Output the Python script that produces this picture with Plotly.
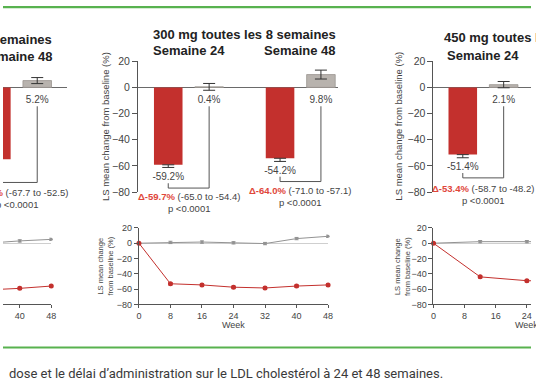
import plotly.graph_objects as go

# ---------------- data ----------------
bar_weeks = ["Semaine 24", "Semaine 48"]
panel_titles = ["150 mg toutes les 4 semaines",
                "300 mg toutes les 8 semaines",
                "450 mg toutes les 12 semaines"]

# left panel (150 mg Q4W) - only week 48 is visible
left_cats = ["Semaine 48"]
left_drug = [-54.9]
left_drug_err = [2.5]
left_plc = [5.2]
left_plc_err = [2.3]
left_delta = [-60.1]
left_ci_lo = [-67.7]
left_ci_hi = [-52.5]

# middle panel (300 mg Q8W)
mid_cats = ["Semaine 24", "Semaine 48"]
mid_drug = [-59.2, -54.2]
mid_drug_err = [2.0, 2.4]
mid_plc = [0.4, 9.8]
mid_plc_err = [2.6, 3.4]
mid_delta = [-59.7, -64.0]
mid_ci_lo = [-65.0, -71.0]
mid_ci_hi = [-54.4, -57.1]

# right panel (450 mg Q12W) - only week 24 is visible
right_cats = ["Semaine 24"]
right_drug = [-51.4]
right_drug_err = [2.4]
right_plc = [2.1]
right_plc_err = [2.4]
right_delta = [-53.4]
right_ci_lo = [-58.7]
right_ci_hi = [-48.2]

p_text = "p &lt;0.0001"

# time courses
left_wk = [32, 40, 48]
left_drug_line = [-61.0, -59.0, -56.0]
left_drug_line_err = [1.5, 1.5, 1.5]
left_plc_line = [0.0, 3.0, 5.0]
left_plc_line_err = [1.5, 1.5, 1.5]

mid_wk = [0, 8, 16, 24, 32, 40, 48]
mid_drug_line = [0.0, -53.0, -54.5, -57.5, -58.5, -56.0, -54.5]
mid_drug_line_err = [0, 1.5, 1.5, 1.5, 1.5, 1.5, 1.5]
mid_plc_line = [0.0, 1.0, 1.5, 0.5, -0.5, 6.0, 9.0]
mid_plc_line_err = [0, 1.5, 1.5, 1.5, 1.5, 1.5, 1.5]

right_wk = [0, 12, 24, 36]
right_drug_line = [0.0, -44.0, -49.0, -50.0]
right_drug_line_err = [0, 1.5, 1.5, 1.5]
right_plc_line = [0.0, 2.0, 2.0, 2.0]
right_plc_line_err = [0, 1.5, 1.5, 1.5]

y_ticks = [-80, -60, -40, -20, 0, 20]
week_ticks = [0, 8, 16, 24, 32, 40, 48]

# ---------------- layout constants ----------------
W, H = 536, 386
S = 113.5          # px between week groups
HALF = 20.75       # px from group centre to bar centre
BARW = 29          # bar width px
PPU = 135 / 100.0  # px per % unit in bar charts
BAR_TOP, BAR_BOT = 57, 192
LINE_TOP, LINE_BOT = 229, 308

RED = "#c3302d"
DRED = "#e0463b"
GREY = "#b8b3ae"
GLINE = "#939393"
TXT = "#444444"
AX = "#555555"
GREEN = "#58b24f"
FONT = "Liberation Sans, Arial, sans-serif"


def fx(p):
    return p / W


def fy(p):
    return 1 - p / H


panels = [
    dict(cats=left_cats, drug=left_drug, derr=left_drug_err, plc=left_plc, perr=left_plc_err,
         delta=left_delta, lo=left_ci_lo, hi=left_ci_hi,
         wk=left_wk, dl=left_drug_line, dle=left_drug_line_err, pl=left_plc_line, ple=left_plc_line_err,
         c0=-99.5, bdom=(0, 65), lax=-143, ppw=4.0, ldom=(0, 49), axes=False,
         ttl_y=(35, 52), ytx=None, lytx=None, dshift=-3),
    dict(cats=mid_cats, drug=mid_drug, derr=mid_drug_err, plc=mid_plc, perr=mid_plc_err,
         delta=mid_delta, lo=mid_ci_lo, hi=mid_ci_hi,
         wk=mid_wk, dl=mid_drug_line, dle=mid_drug_line_err, pl=mid_plc_line, ple=mid_plc_line_err,
         c0=188.5, bdom=(137, 340), lax=138, ppw=4.0, ldom=(138, 330), axes=True,
         ttl_y=(29, 46), ytx=104, lytx=104, dshift=-1),
    dict(cats=right_cats, drug=right_drug, derr=right_drug_err, plc=right_plc, perr=right_plc_err,
         delta=right_delta, lo=right_ci_lo, hi=right_ci_hi,
         wk=right_wk, dl=right_drug_line, dle=right_drug_line_err, pl=right_plc_line, ple=right_plc_line_err,
         c0=487.5, bdom=(437, 536), lax=437, ppw=3.95, ldom=(437, 536), axes=True,
         ttl_y=(33, 51), ytx=402, lytx=405, dshift=-3),
]

fig = go.Figure()
layout = dict(
    width=W, height=H, margin=dict(l=0, r=0, t=0, b=0),
    paper_bgcolor="white", plot_bgcolor="rgba(0,0,0,0)",
    showlegend=False, barmode="overlay",
    font=dict(family=FONT, color=TXT),
)
annotations = []
shapes = []

off = HALF / S
bw = BARW / S

for k, P in enumerate(panels):
    nb = k + 1      # bar subplot
    nl = k + 4      # line subplot
    xb, yb = f"x{nb}", f"y{nb}"
    xl, yl = f"x{nl}", f"y{nl}"
    g = [bar_weeks.index(c) for c in P["cats"]]

    # ---- axes (bar chart)
    a, b = P["bdom"]
    layout[f"xaxis{nb}"] = dict(domain=[fx(a), fx(b)], range=[(a - P["c0"]) / S, (b - P["c0"]) / S],
                                visible=False, anchor=yb)
    layout[f"yaxis{nb}"] = dict(domain=[fy(BAR_BOT), fy(BAR_TOP)], range=[-80, 20], tickvals=y_ticks,
                                ticks="outside" if P["axes"] else "", ticklen=5, tickwidth=1, tickcolor=AX,
                                showticklabels=P["axes"], showline=P["axes"], linecolor=AX, linewidth=1,
                                showgrid=False, zeroline=True, zerolinecolor="#6a6a6a", zerolinewidth=1.2,
                                tickfont=dict(size=10.5, color=TXT, family=FONT), anchor=xb)

    # ---- bars
    fig.add_trace(go.Bar(x=[gi - off for gi in g], y=P["drug"], width=bw,
                         marker=dict(color=RED, line=dict(width=0)),
                         error_y=dict(type="data", symmetric=False, array=[0] * len(g),
                                      arrayminus=P["derr"], color="#333", thickness=1, width=6),
                         xaxis=xb, yaxis=yb, hoverinfo="skip"))
    fig.add_trace(go.Bar(x=[gi + off for gi in g], y=P["plc"], width=bw,
                         marker=dict(color=GREY, line=dict(width=0.8, color="#9a9590")),
                         error_y=dict(type="data", array=P["perr"], color="#333", thickness=1, width=6),
                         xaxis=xb, yaxis=yb, hoverinfo="skip"))
    # value labels below bar ends / below zero line
    lab_x = [gi - off for gi in g] + [gi + off for gi in g]
    lab_y = [min(v, 0) for v in P["drug"]] + [min(v, 0) for v in P["plc"]]
    lab_t = [f"{v:.1f}%" for v in P["drug"]] + [f"{v:.1f}%" for v in P["plc"]]
    fig.add_trace(go.Scatter(x=lab_x, y=lab_y, text=lab_t, mode="markers+text",
                             textposition="bottom center",
                             marker=dict(size=11, color="rgba(0,0,0,0)"),
                             textfont=dict(size=10, color=TXT, family=FONT),
                             cliponaxis=False, xaxis=xb, yaxis=yb, hoverinfo="skip"))

    # brackets and delta text
    for i, gi in enumerate(g):
        v = P["drug"][i]
        xr, xg = gi - off, gi + off
        bottom = v - 24 / PPU
        top_l = v - 19 / PPU
        top_r = -19.5 / PPU
        shapes.append(dict(type="path", xref=xb, yref=yb,
                           path=f"M {xr} {top_l} L {xr} {bottom} L {xg} {bottom} L {xg} {top_r}",
                           line=dict(color="#555", width=1)))
        annotations.append(dict(
            xref=xb, yref=yb, x=gi, y=bottom, yanchor="top", xanchor="center", yshift=P["dshift"],
            showarrow=False, align="center",
            text=(f"<b><span style='color:{DRED}'>\u0394{P['delta'][i]:.1f}%</span></b> "
                  f"({P['lo'][i]:.1f} to {P['hi'][i]:.1f})<br>{p_text}"),
            font=dict(size=9.5, color=TXT, family=FONT)))

    # titles
    annotations.append(dict(xref="paper", yref="paper", x=fx(P["c0"] + 0.5 * S), y=fy(P["ttl_y"][0]),
                            xanchor="center", yanchor="middle", showarrow=False,
                            text=f"<b>{panel_titles[k]}</b>",
                            font=dict(size=13, color="#222", family=FONT)))
    for c, gi in zip(P["cats"], g):
        annotations.append(dict(xref="paper", yref="paper", x=fx(P["c0"] + gi * S), y=fy(P["ttl_y"][1]),
                                xanchor="center", yanchor="middle", showarrow=False,
                                text=f"<b>{c}</b>", font=dict(size=13, color="#222", family=FONT)))
    if P["ytx"] is not None:
        annotations.append(dict(xref="paper", yref="paper", x=fx(P["ytx"]),
                                y=fy((BAR_TOP + BAR_BOT) / 2), textangle=-90, showarrow=False,
                                xanchor="center", yanchor="middle",
                                text="LS mean change from baseline (%)",
                                font=dict(size=9.5, color=TXT, family=FONT)))

    # ---- line chart axes
    a, b = P["ldom"]
    layout[f"xaxis{nl}"] = dict(domain=[fx(a), fx(b)],
                                range=[(a - P["lax"]) / P["ppw"], (b - P["lax"]) / P["ppw"]],
                                tickvals=week_ticks, ticks="outside", ticklen=3, tickwidth=1, tickcolor=AX,
                                showline=True, linecolor=AX, linewidth=1, showgrid=False, zeroline=False,
                                tickfont=dict(size=9, color=TXT, family=FONT), anchor=yl)
    layout[f"yaxis{nl}"] = dict(domain=[fy(LINE_BOT), fy(LINE_TOP)], range=[-80, 20], tickvals=y_ticks,
                                ticks="outside" if P["axes"] else "", ticklen=4, tickwidth=1, tickcolor=AX,
                                showticklabels=P["axes"], showline=P["axes"], linecolor=AX, linewidth=1,
                                showgrid=False, zeroline=True, zerolinecolor="#cfcfcf", zerolinewidth=1,
                                tickfont=dict(size=9, color=TXT, family=FONT), anchor=xl)

    fig.add_trace(go.Scatter(x=P["wk"], y=P["pl"], mode="lines+markers",
                             line=dict(color=GLINE, width=1), marker=dict(size=3, color=GLINE),
                             error_y=dict(type="data", array=P["ple"], color=GLINE, thickness=1, width=2),
                             cliponaxis=False, xaxis=xl, yaxis=yl, hoverinfo="skip"))
    fig.add_trace(go.Scatter(x=P["wk"], y=P["dl"], mode="lines+markers",
                             line=dict(color=RED, width=1), marker=dict(size=5, color=RED),
                             error_y=dict(type="data", array=P["dle"], color=RED, thickness=1, width=2),
                             cliponaxis=False, xaxis=xl, yaxis=yl, hoverinfo="skip"))
    if P["axes"]:
        annotations.append(dict(xref=xl, yref="paper", x=24, y=fy(329.5), showarrow=False,
                                xanchor="center", yanchor="middle", text="Week",
                                font=dict(size=9, color=TXT, family=FONT)))
        annotations.append(dict(xref="paper", yref="paper", x=fx(P["lytx"]),
                                y=fy((LINE_TOP + LINE_BOT) / 2), textangle=-90, showarrow=False,
                                xanchor="center", yanchor="middle",
                                text="LS mean change<br>from baseline (%)",
                                font=dict(size=7.5, color=TXT, family=FONT)))

# frame lines and caption
shapes.append(dict(type="line", xref="paper", yref="paper", x0=0, x1=1, y0=fy(1.2), y1=fy(1.2),
                   line=dict(color=GREEN, width=2.4)))
shapes.append(dict(type="line", xref="paper", yref="paper", x0=0, x1=1, y0=fy(352.5), y1=fy(352.5),
                   line=dict(color=GREEN, width=2)))
annotations.append(dict(xref="paper", yref="paper", x=fx(4), y=fy(379), xanchor="left", yanchor="middle",
                        showarrow=False,
                        text="dose et le délai d\u2019administration sur le LDL cholestérol à 24 et 48 semaines.",
                        font=dict(size=13, color="#3a3a3a", family="Roboto, sans-serif")))

layout["annotations"] = annotations
layout["shapes"] = shapes
fig.update_layout(**layout)
fig.write_html("out.html",
               config={"displayModeBar": False},
               post_script="document.body.style.margin='0px';document.body.style.overflow='hidden';")
